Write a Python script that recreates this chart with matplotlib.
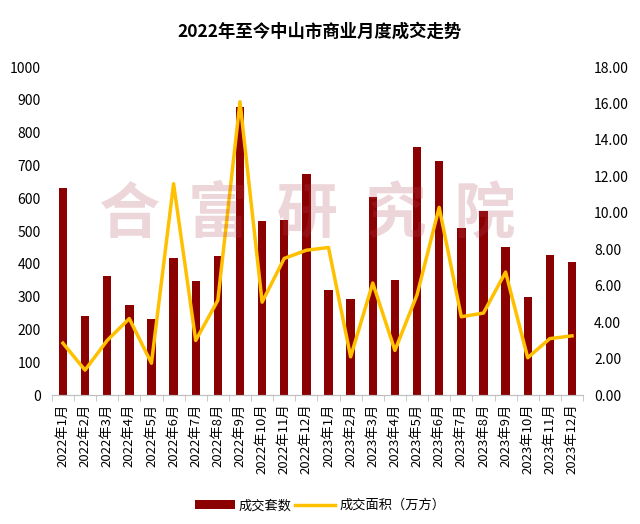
import numpy as np
import matplotlib
matplotlib.use('Agg')
import matplotlib.pyplot as plt

plt.rcParams['font.family'] = ['Noto Sans CJK SC', 'DejaVu Sans']

months = ['2022年%d月' % m for m in range(1, 13)] + ['2023年%d月' % m for m in range(1, 13)]
taoshu = [630, 240, 362, 275, 233, 418, 348, 425, 878, 532, 535, 675,
          320, 292, 603, 350, 757, 713, 510, 560, 453, 300, 428, 405]
mianji = [2.85, 1.37, 3.0, 4.2, 1.75, 11.6, 3.0, 5.2, 16.1, 5.1, 7.5, 7.95,
          8.1, 2.1, 6.15, 2.45, 5.5, 10.3, 4.3, 4.5, 6.75, 2.05, 3.1, 3.25]

bar_color = '#8B0000'
line_color = '#FFC000'

fig = plt.figure(figsize=(6.4, 5.24), dpi=100)
ax = fig.add_axes([0.081, 0.246, 0.830, 0.626])
ax2 = ax.twinx()

index = np.arange(len(months))
b = ax.bar(index, taoshu, 0.38, color=bar_color, label='成交套数', zorder=2)
l, = ax2.plot(index, mianji, color=line_color, lw=2.5, label='成交面积（万方）', zorder=3)

ax.set_xlim(-0.5, len(months) - 0.5)
ax.set_ylim(0, 1000)
ax.set_yticks(np.arange(0, 1001, 100))
ax2.set_ylim(0, 18)
ax2.set_yticks(np.arange(0, 18.1, 2))
ax2.set_yticklabels(['%.2f' % v for v in np.arange(0, 18.1, 2)])

ax.set_xticks(index)
ax.set_xticklabels(months, rotation=90, fontsize=9.5)
ax.set_xticks(np.arange(-0.5, len(months)), minor=True)
ax.tick_params(axis='x', which='major', length=0, pad=6)
ax.tick_params(axis='x', which='minor', length=4, color='#bfbfbf')
ax.tick_params(axis='y', length=0, labelsize=10, pad=8)
ax2.tick_params(axis='y', length=0, labelsize=10, pad=8)

for a in (ax, ax2):
    for s in ('top', 'left', 'right'):
        a.spines[s].set_visible(False)
    a.spines['bottom'].set_color('#bfbfbf')

fig.text(0.5, 0.94, '2022年至今中山市商业月度成交走势', ha='center', va='center',
         fontsize=12.5, fontweight='bold')

# watermark
fig.text(0.48, 0.59, '合  富  研  究  院', ha='center', va='center', fontsize=44,
         fontweight='bold', color='#b04858', alpha=0.22, zorder=10)

fig.legend([b, l], ['成交套数', '成交面积（万方）'], loc='center', ncol=2,
           bbox_to_anchor=(0.5, 0.035), frameon=False, fontsize=9.5,
           handlelength=3, columnspacing=0.3, handletextpad=0.3)

fig.savefig('out.png', dpi=100)
